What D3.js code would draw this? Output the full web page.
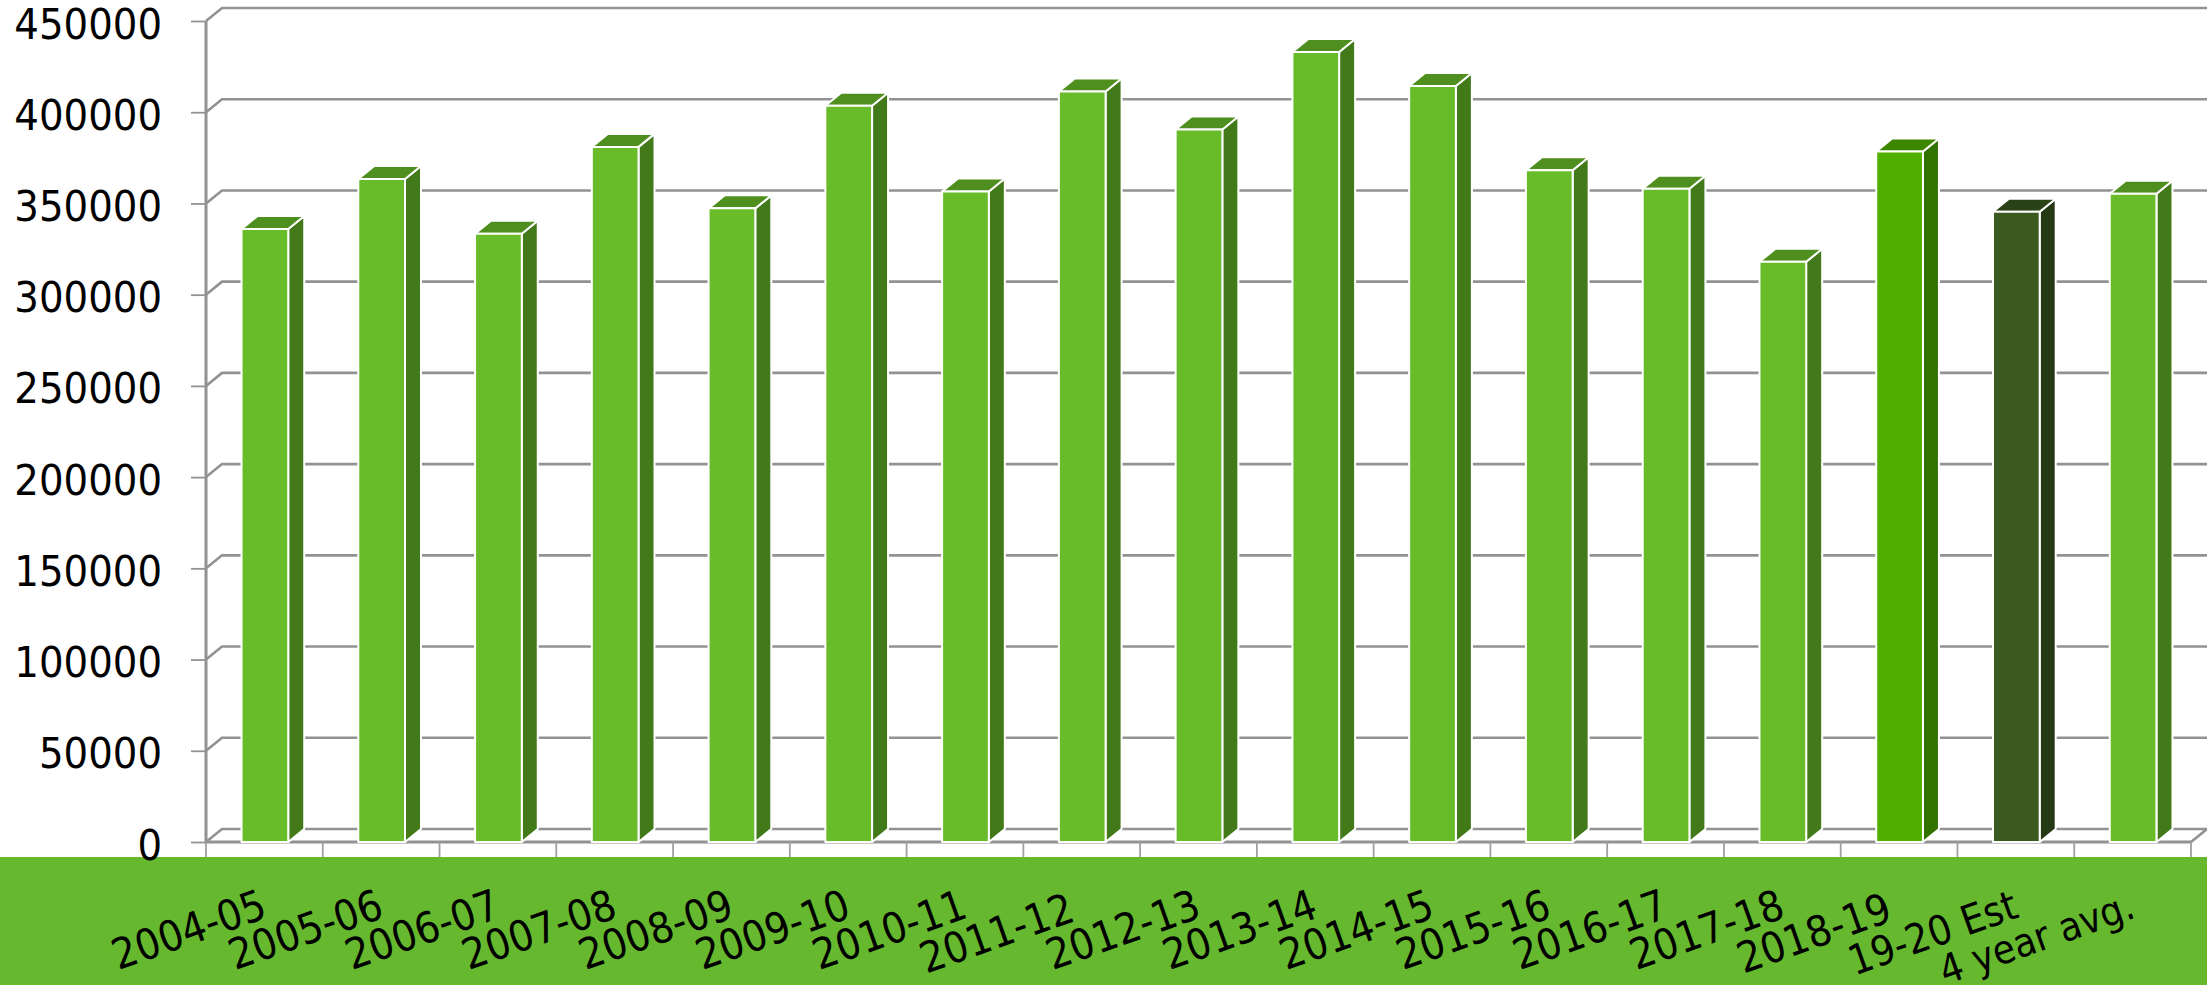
<!DOCTYPE html>
<html>
<head>
<meta charset="utf-8">
<script src="https://cdn.jsdelivr.net/npm/d3@7"></script>
<style>
  html, body { margin: 0; padding: 0; background: #fff; overflow: hidden; }
  text { font-family: "DejaVu Sans Condensed", "Open Sans", sans-serif; fill: #000; }
</style>
</head>
<body>
<div id="chart"></div>
<script>
const categories = ["2004-05", "2005-06", "2006-07", "2007-08", "2008-09", "2009-10", "2010-11", "2011-12", "2012-13",
  "2013-14", "2014-15", "2015-16", "2016-17", "2017-18", "2018-19", "19-20 Est", "4 year avg."];
const values = [336000, 363400, 333400, 381000, 347300, 403600, 356600, 411400, 390500,
  433000, 414400, 368200, 358100, 318000, 378500, 345500, 355300];
const yTicks = [0, 50000, 100000, 150000, 200000, 250000, 300000, 350000, 400000, 450000];

const width = 2207;
const height = 985;
const left = 206, right = 2191, top_ = 21, bottom = 842;
const depthX = 16, depthY = 13;
const bandTop = 857;
const gridColor = "#929292";
const labelFont = '"DejaVu Sans Condensed", "Open Sans", sans-serif';

// bars that are not the default green
const barColors = {
  default: { front: "#68bc29", top: "#4f8f1f", side: "#437a19" },
  "2018-19": { front: "#50b000", top: "#3d8600", side: "#327300" },
  "19-20 Est": { front: "#3a5a20", top: "#2a4216", side: "#253a14" }
};

// these two labels sit a bit further along their baseline in the original
const labelNudge = { "2011-12": -10, "2018-19": -10 };
// the labels with letters come out too long in this font
const labelSize = { "19-20 Est": 41, "4 year avg.": 40 };

const svg = d3.select("#chart").append("svg")
  .attr("width", width)
  .attr("height", height)
  .style("display", "block");

const x = d3.scaleBand().domain(categories).range([left + 0.5, right + 0.5]).paddingInner(0.6).paddingOuter(0.3);
const xTick = d3.scaleLinear().domain([0, categories.length]).range([left, right]);
const y = d3.scaleLinear().domain([0, 450000]).range([bottom, top_]);

// GRID
const grid = svg.append("g").attr("fill", "none").attr("stroke", gridColor).attr("stroke-width", 2.6);
grid.selectAll(".back").data(yTicks).enter().append("path")
  .attr("class", "back")
  .attr("d", d => `M${left},${y(d)}L${left + depthX},${y(d) - depthY}L${right + depthX},${y(d) - depthY}`);

grid.append("line").attr("x1", left).attr("x2", left).attr("y1", top_).attr("y2", bottom).attr("stroke-width", 3);
grid.append("line").attr("x1", left).attr("x2", right).attr("y1", bottom).attr("y2", bottom).attr("stroke-width", 3);
grid.append("line").attr("x1", right).attr("x2", right + depthX).attr("y1", bottom).attr("y2", bottom - depthY);

// X TICKS
svg.append("g").attr("stroke", "#a0a0a0").attr("stroke-width", 1.8)
  .selectAll("line").data(d3.range(categories.length + 1)).enter().append("line")
  .attr("x1", d => xTick(d)).attr("x2", d => xTick(d))
  .attr("y1", bottom).attr("y2", bandTop);

// BARS
const colorOf = d => barColors[d.cat] || barColors.default;
const barData = categories.map((cat, i) => ({ cat, value: values[i] }));
const bars = svg.selectAll(".bar").data(barData).enter().append("g")
  .attr("class", "bar")
  .attr("stroke", "#fff")
  .attr("stroke-width", 2)
  .attr("stroke-linejoin", "round");

bars.append("path")
  .attr("fill", d => colorOf(d).side)
  .attr("d", d => {
    const x1 = x(d.cat) + x.bandwidth();
    return `M${x1},${y(d.value)}L${x1 + depthX},${y(d.value) - depthY}L${x1 + depthX},${bottom - depthY}L${x1},${bottom}Z`;
  });
bars.append("path")
  .attr("fill", d => colorOf(d).top)
  .attr("d", d => {
    const x0 = x(d.cat), x1 = x0 + x.bandwidth(), yy = y(d.value);
    return `M${x0},${yy}L${x0 + depthX},${yy - depthY}L${x1 + depthX},${yy - depthY}L${x1},${yy}Z`;
  });
bars.append("rect")
  .attr("fill", d => colorOf(d).front)
  .attr("x", d => x(d.cat))
  .attr("y", d => y(d.value))
  .attr("width", x.bandwidth())
  .attr("height", d => bottom - y(d.value));

// GREEN BAND
svg.append("rect").attr("x", 0).attr("y", bandTop).attr("width", width).attr("height", height - bandTop).attr("fill", "#66b92e");

// Y AXIS
const yAxis = svg.append("g")
  .attr("transform", `translate(${left},0)`)
  .call(d3.axisLeft(y).tickValues(yTicks).tickFormat(d3.format("d")).tickSize(15).tickPadding(29));
yAxis.select(".domain").remove();
yAxis.selectAll("line").attr("stroke", gridColor).attr("stroke-width", 1.8);
yAxis.selectAll("text")
  .attr("font-size", 43)
  .attr("dy", 17)
  .style("font-family", labelFont);

// X LABELS
svg.append("g").selectAll("text").data(categories).enter().append("text")
  .attr("text-anchor", "end")
  .attr("font-size", d => labelSize[d] || 42.5)
  .attr("dx", d => labelNudge[d] || 0)
  .attr("transform", d => `translate(${x(d) + x.bandwidth() / 2 + 4},917) rotate(-19.5)`)
  .text(d => d);
</script>
</body>
</html>
